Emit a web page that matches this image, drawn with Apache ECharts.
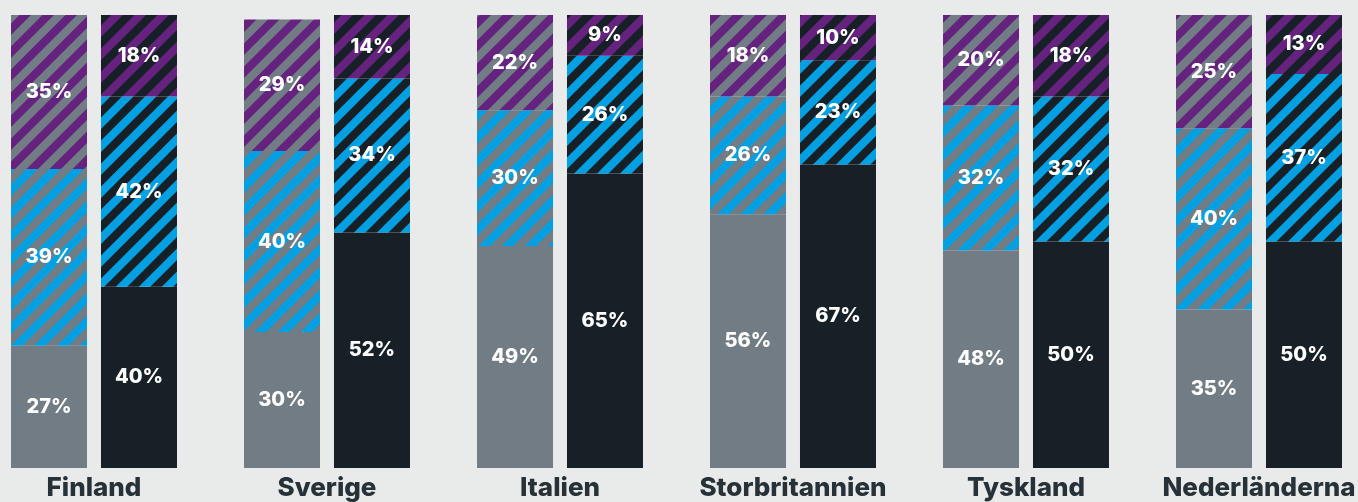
<!DOCTYPE html>
<html>
<head>
<meta charset="utf-8">
<script src="https://cdn.jsdelivr.net/npm/echarts@6/dist/echarts.min.js"></script>
<style>
  html, body { margin: 0; padding: 0; background: #e9eaea; }
  #chart { width: 1358px; height: 502px; }
</style>
</head>
<body>
<div id="chart"></div>
<script>
// Countries on the category axis
const categories = ['Finland', 'Sverige', 'Italien', 'Storbritannien', 'Tyskland', 'Nederländerna'];

// Left (grey) column per country, percent, bottom to top
const leftBase = [27, 30, 49, 56, 48, 35];
const leftMid  = [39, 40, 30, 26, 32, 40];
const leftTop  = [35, 29, 22, 18, 20, 25];

// Right (dark) column per country, percent, bottom to top
const rightBase = [40, 52, 65, 67, 50, 50];
const rightMid  = [42, 34, 26, 23, 32, 37];
const rightTop  = [18, 14,  9, 10, 18, 13];

const GREY = '#717c84';
const DARK = '#172027';
const BLUE = '#00a0e3';
const PURPLE = '#65237f';

// Diagonal "/" stripe tile of two colours
function stripes(a, b) {
  const P = 23, h = 11.5;
  const c = document.createElement('canvas');
  c.width = P; c.height = P;
  const ctx = c.getContext('2d');
  ctx.fillStyle = b;
  ctx.fillRect(0, 0, P, P);
  ctx.fillStyle = a;
  for (let k = -1; k <= 2; k++) {
    const s = k * P;
    ctx.beginPath();
    ctx.moveTo(s, 0);
    ctx.lineTo(s + h, 0);
    ctx.lineTo(s + h - P, P);
    ctx.lineTo(s - P, P);
    ctx.closePath();
    ctx.fill();
  }
  return { image: c, repeat: 'repeat' };
}

const labelStyle = {
  show: true,
  position: 'inside',
  color: '#ffffff',
  fontFamily: 'Inter, "Noto Sans", sans-serif',
  fontWeight: 800,
  fontSize: 20,
  formatter: p => p.value + '%'
};

function seg(name, stack, data, fill) {
  return {
    name, type: 'bar', stack, data,
    barWidth: 76,
    barGap: '18.4%',
    itemStyle: { color: fill },
    label: labelStyle,
    emphasis: { disabled: true }
  };
}

const chart = echarts.init(document.getElementById('chart'), null, { renderer: 'canvas' });
chart.setOption({
  backgroundColor: '#e9eaea',
  animation: false,
  grid: { left: -22.5, top: 15, width: 1398, height: 453, outerBoundsMode: 'none', containLabel: false },
  xAxis: {
    type: 'category',
    data: categories,
    axisLine: { show: false },
    axisTick: { show: false },
    axisLabel: {
      color: '#263238',
      fontFamily: 'Inter, "Noto Sans", sans-serif',
      fontWeight: 800,
      fontSize: 26,
      margin: 7,
      interval: 0
    }
  },
  yAxis: { type: 'value', min: 0, max: 100, show: false, splitLine: { show: false } },
  series: [
    seg('Grå bas', 'left', leftBase, GREY),
    seg('Grå mitt', 'left', leftMid, stripes(GREY, BLUE)),
    seg('Grå topp', 'left', leftTop, stripes(GREY, PURPLE)),
    seg('Mörk bas', 'right', rightBase, DARK),
    seg('Mörk mitt', 'right', rightMid, stripes(DARK, BLUE)),
    seg('Mörk topp', 'right', rightTop, stripes(DARK, PURPLE))
  ]
});
</script>
</body>
</html>
